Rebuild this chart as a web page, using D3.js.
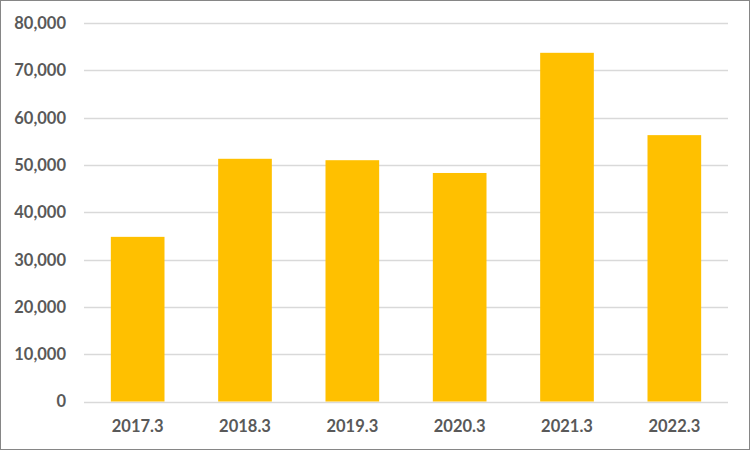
<!DOCTYPE html>
<html>
<head>
<meta charset="utf-8">
<script src="https://cdn.jsdelivr.net/npm/d3@7"></script>
<style>
  html, body { margin: 0; padding: 0; background: #fff; }
  svg { display: block; }
  text { font-family: Lato, "Open Sans", sans-serif; font-weight: bold; fill: #595959; }
</style>
</head>
<body>
<script>
const categories = ["2017.3", "2018.3", "2019.3", "2020.3", "2021.3", "2022.3"];
const values = [34800, 51300, 51000, 48300, 73700, 56300];
const yTicks = [0, 10000, 20000, 30000, 40000, 50000, 60000, 70000, 80000];

const W = 751, H = 451;
const svg = d3.select("body").append("svg").attr("width", W).attr("height", H);

svg.append("rect").attr("x", 0.5).attr("y", 0.5).attr("width", 749).attr("height", 449)
  .attr("fill", "#fff").attr("stroke", "#868686").attr("stroke-width", 1);

const x = d3.scaleBand().domain(categories).range([84, 728]).paddingInner(0.5).paddingOuter(0.25);
const y = d3.scaleLinear().domain([0, 80000]).range([401.5, 23]);

// gridlines
svg.append("g").selectAll("line").data(yTicks).join("line")
  .attr("x1", 84).attr("x2", 728)
  .attr("y1", d => Math.round(y(d)) + 0.5).attr("y2", d => Math.round(y(d)) + 0.5)
  .attr("stroke", "#d9d9d9").attr("stroke-width", 1.5);

// bars
svg.append("g").selectAll("rect").data(values).join("rect")
  .attr("x", (d, i) => x(categories[i]))
  .attr("width", x.bandwidth())
  .attr("y", d => y(d))
  .attr("height", d => y(0) - y(d))
  .attr("fill", "#ffc000");

// y axis labels
const fmt = d3.format(",");
svg.append("g").selectAll("text").data(yTicks).join("text")
  .attr("x", 66).attr("y", d => y(d))
  .attr("dy", "0.36em")
  .attr("text-anchor", "end")
  .attr("font-size", "16.5px")
  .text(d => fmt(d));

// x axis labels
svg.append("g").selectAll("text").data(categories).join("text")
  .attr("x", d => x(d) + x.bandwidth() / 2).attr("y", 432)
  .attr("text-anchor", "middle")
  .attr("font-size", "16.5px")
  .text(d => d);
</script>
</body>
</html>
